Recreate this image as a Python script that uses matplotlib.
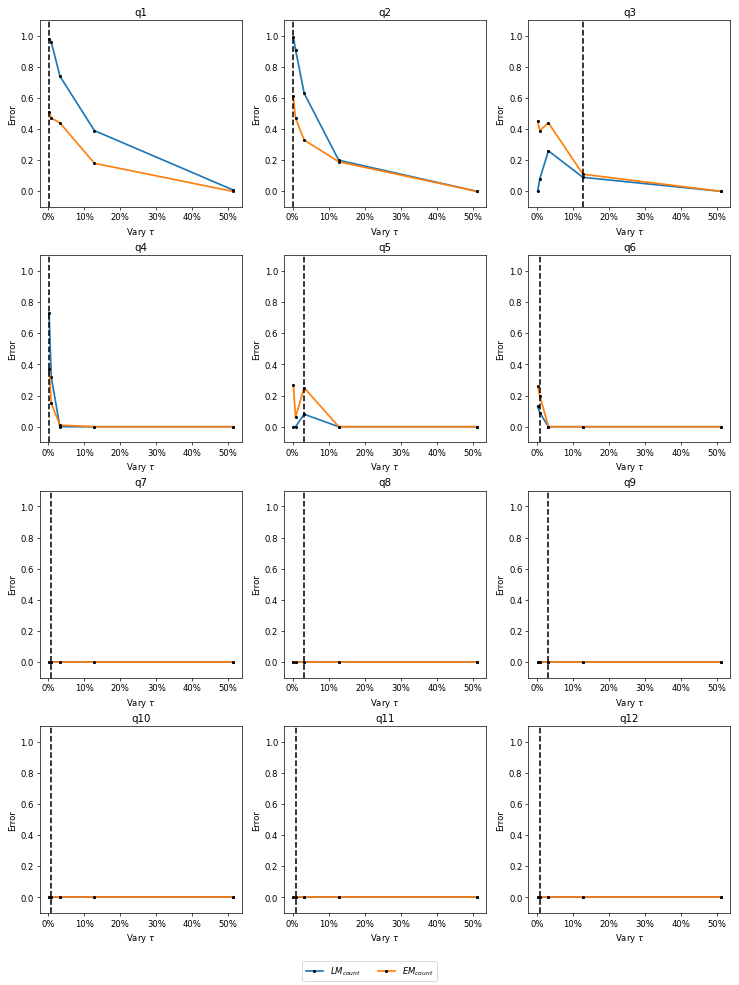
import matplotlib
matplotlib.use('Agg')
import matplotlib.pyplot as plt
from matplotlib.ticker import PercentFormatter

# valori di tau (frazione)
taus = [0.002, 0.008, 0.032, 0.128, 0.512]

titles = ['q1', 'q2', 'q3', 'q4', 'q5', 'q6', 'q7', 'q8', 'q9', 'q10', 'q11', 'q12']

lm_count = [
    [0.98, 0.96, 0.74, 0.39, 0.01],
    [0.99, 0.91, 0.63, 0.20, 0.00],
    [0.00, 0.08, 0.26, 0.09, 0.00],
    [0.73, 0.32, 0.00, 0.00, 0.00],
    [0.00, 0.00, 0.08, 0.00, 0.00],
    [0.13, 0.09, 0.00, 0.00, 0.00],
    [0.00, 0.00, 0.00, 0.00, 0.00],
    [0.00, 0.00, 0.00, 0.00, 0.00],
    [0.00, 0.00, 0.00, 0.00, 0.00],
    [0.00, 0.00, 0.00, 0.00, 0.00],
    [0.00, 0.00, 0.00, 0.00, 0.00],
    [0.00, 0.00, 0.00, 0.00, 0.00],
]

em_count = [
    [0.51, 0.47, 0.44, 0.18, 0.00],
    [0.61, 0.47, 0.33, 0.19, 0.00],
    [0.45, 0.39, 0.44, 0.11, 0.00],
    [0.37, 0.15, 0.01, 0.00, 0.00],
    [0.27, 0.06, 0.25, 0.00, 0.00],
    [0.26, 0.20, 0.00, 0.00, 0.00],
    [0.00, 0.00, 0.00, 0.00, 0.00],
    [0.00, 0.00, 0.00, 0.00, 0.00],
    [0.00, 0.00, 0.00, 0.00, 0.00],
    [0.00, 0.00, 0.00, 0.00, 0.00],
    [0.00, 0.00, 0.00, 0.00, 0.00],
    [0.00, 0.00, 0.00, 0.00, 0.00],
]

# tau scelto per ogni query (linea tratteggiata)
best_tau = [0.002, 0.002, 0.128, 0.002, 0.032, 0.008,
            0.008, 0.032, 0.032, 0.008, 0.008, 0.008]

fig, axes = plt.subplots(4, 3, figsize=(12, 16))
fig.subplots_adjust(left=0.054, right=0.988, top=0.979, bottom=0.073,
                    wspace=0.21, hspace=0.26)

for i, ax in enumerate(axes.flat):
    ax.plot(taus, lm_count[i], color='C0', marker='o', markersize=2.5,
            linewidth=2, mfc='black', mec='black', label='$LM_{count}$')
    ax.plot(taus, em_count[i], color='C1', marker='o', markersize=2.5,
            linewidth=2, mfc='black', mec='black', label='$EM_{count}$')
    ax.axvline(best_tau[i], color='black', linestyle='--', linewidth=1.8)
    ax.set_ylim(-0.1, 1.1)
    ax.set_yticks([0.0, 0.2, 0.4, 0.6, 0.8, 1.0])
    ax.xaxis.set_major_formatter(PercentFormatter(1.0, decimals=0))
    ax.set_title(titles[i])
    ax.set_xlabel(r'Vary $\tau$')
    ax.set_ylabel('Error')

handles, labels = axes.flat[0].get_legend_handles_labels()
fig.legend(handles, labels, loc='lower center', ncol=2, fontsize=10,
           bbox_to_anchor=(0.5, 0.0))

fig.savefig('out.png', dpi=61.6)
